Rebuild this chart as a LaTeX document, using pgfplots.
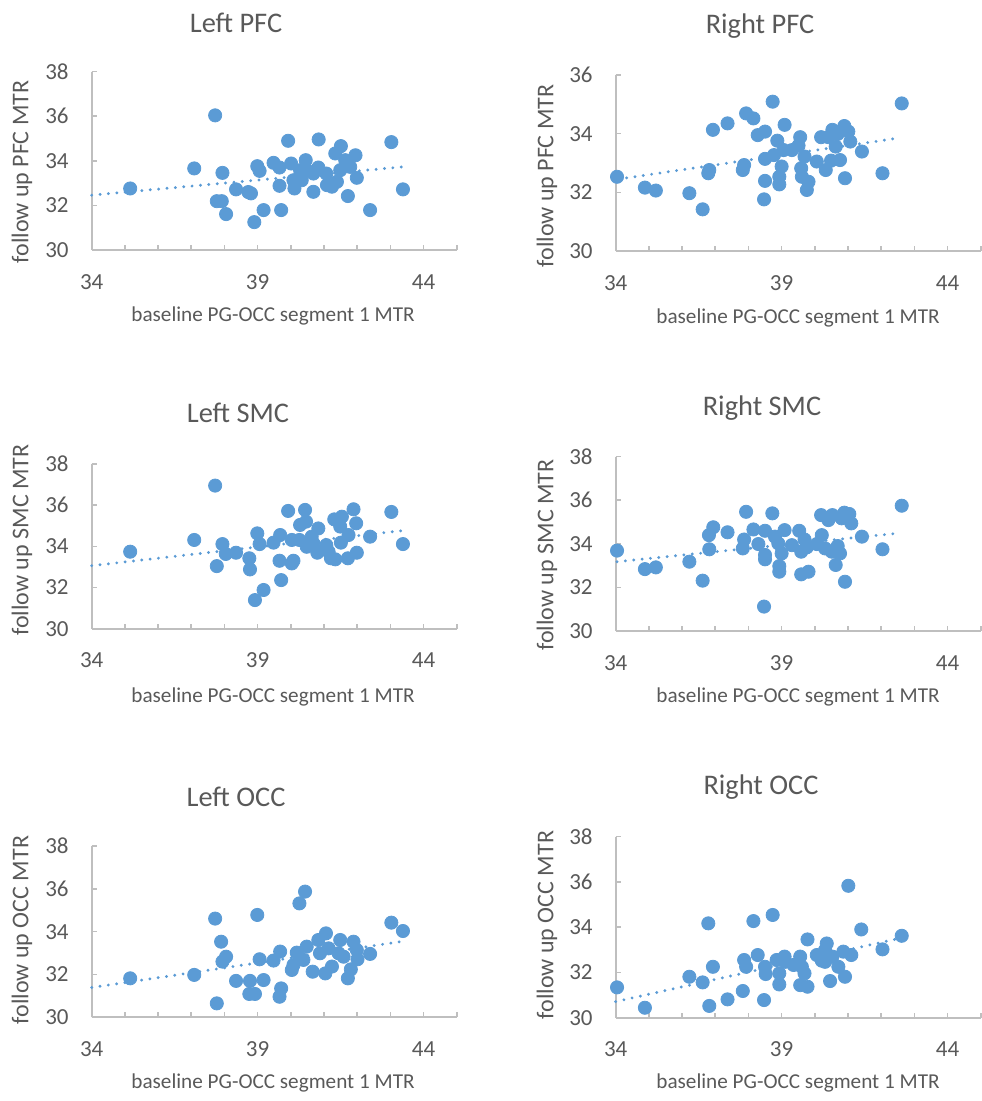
\documentclass[border=0pt]{standalone}
\usepackage{fontspec}
\setmainfont{Carlito}
\usepackage{pgfplots}
\pgfplotsset{compat=1.18}
\usepackage{pgfplotstable}

\definecolor{dotblue}{HTML}{5B9BD5}
\definecolor{txtgray}{HTML}{595959}
\definecolor{axgray}{HTML}{BFBFBF}

% panel data: x = baseline PG-OCC seg 1 MTR, y = follow up MTR
\pgfplotstableread{
x y
35.16 32.76
37.72 36.04
37.09 33.66
37.94 33.46
37.77 32.19
37.92 32.19
38.05 31.61
38.35 32.72
38.72 32.60
38.80 32.54
38.90 31.25
39.18 31.79
38.99 33.76
39.06 33.55
39.48 33.91
39.66 33.70
39.66 32.88
39.71 31.79
39.92 34.90
40.01 33.88
40.11 32.76
40.08 33.13
40.28 33.58
40.45 34.03
40.48 33.58
40.33 33.13
40.68 32.61
40.68 33.43
40.83 33.70
40.84 34.96
41.07 33.43
41.09 32.91
41.24 32.84
41.34 34.33
41.39 33.06
41.51 34.66
41.49 33.58
41.64 34.03
41.72 32.42
41.79 33.73
41.95 34.25
41.99 33.24
42.39 31.79
43.03 34.84
43.38 32.72
}\leftpfc

\pgfplotstableread{
x y
34.04 32.53
34.88 32.16
35.21 32.06
36.22 31.97
36.62 31.42
36.79 32.65
36.82 32.76
36.93 34.13
37.37 34.35
37.83 32.76
37.87 32.93
37.93 34.69
38.15 34.52
38.28 33.95
38.50 34.07
38.50 33.14
38.50 32.39
38.47 31.76
38.73 35.09
38.77 33.27
38.87 33.76
39.00 32.88
38.93 32.53
38.93 32.27
39.09 34.30
39.06 33.44
39.31 33.44
39.51 33.59
39.56 33.88
39.59 32.82
39.61 32.53
39.69 33.22
39.81 32.36
39.76 32.08
40.06 33.05
40.19 33.88
40.33 32.76
40.41 33.88
40.53 34.13
40.49 33.08
40.63 33.56
40.76 33.10
40.69 33.99
40.89 34.26
41.01 34.07
41.07 33.73
40.91 32.48
41.42 33.39
42.04 32.65
42.62 35.03
}\rightpfc

\pgfplotstableread{
x y
35.16 33.74
37.09 34.31
37.72 36.95
37.94 34.11
38.04 33.63
37.77 33.04
38.35 33.69
38.75 33.42
38.77 32.88
38.92 31.39
39.18 31.88
38.99 34.63
39.06 34.11
39.48 34.18
39.68 34.55
39.66 33.30
39.71 32.36
39.92 35.72
40.03 34.31
40.08 33.30
40.03 33.17
40.26 34.31
40.28 35.04
40.43 35.77
40.46 35.20
40.48 33.98
40.63 34.47
40.68 34.15
40.83 34.87
40.80 33.69
41.07 34.06
41.14 33.74
41.21 33.42
41.34 33.37
41.31 35.31
41.49 34.96
41.54 35.44
41.51 34.18
41.74 34.55
41.72 33.42
41.89 35.80
41.97 35.12
41.99 33.69
42.39 34.47
43.03 35.67
43.38 34.11
}\leftsmc

\pgfplotstableread{
x y
34.04 33.69
34.88 32.84
35.21 32.92
36.22 33.18
36.62 32.31
36.81 34.40
36.82 33.75
36.94 34.76
37.37 34.53
37.83 33.79
37.87 34.20
37.93 35.47
38.15 34.66
38.30 33.99
38.50 34.60
38.50 33.49
38.50 33.29
38.47 31.12
38.72 35.40
38.80 34.33
38.90 34.02
39.00 33.56
38.93 32.98
38.93 32.72
39.09 34.63
39.31 33.94
39.53 34.60
39.69 34.20
39.59 33.64
39.59 32.60
39.81 32.72
39.76 33.84
40.06 33.99
40.19 35.32
40.21 34.40
40.31 33.79
40.41 35.09
40.53 35.32
40.51 33.64
40.69 33.90
40.76 33.56
40.63 33.03
40.81 35.17
40.89 35.43
41.04 35.37
41.10 34.94
40.91 32.26
41.42 34.33
42.04 33.75
42.62 35.75
}\rightsmc

\pgfplotstableread{
x y
35.16 31.82
37.09 31.98
37.72 34.61
37.77 30.65
37.90 33.53
37.94 32.60
38.05 32.83
38.35 31.70
38.77 31.70
38.75 31.09
38.92 31.09
39.18 31.74
38.99 34.78
39.06 32.71
39.48 32.65
39.68 33.07
39.71 31.35
39.66 30.96
40.03 32.21
40.08 32.44
40.18 33.02
40.26 35.32
40.43 35.87
40.38 32.68
40.48 33.30
40.66 32.13
40.83 33.61
40.88 32.99
41.06 33.92
41.04 32.05
41.14 33.22
41.24 32.37
41.49 33.61
41.44 32.99
41.59 32.83
41.72 31.82
41.81 32.24
41.89 33.53
41.99 33.14
42.01 32.71
42.39 32.96
43.03 34.42
43.38 34.03
}\leftocc

\pgfplotstableread{
x y
34.04 31.34
34.88 30.44
36.22 31.81
36.62 31.56
36.79 34.17
36.82 30.52
36.93 32.25
37.37 30.81
37.83 31.18
37.87 32.55
37.93 32.25
38.15 34.27
38.28 32.77
38.47 30.78
38.50 32.25
38.52 31.93
38.73 34.54
38.85 32.55
38.93 31.47
38.93 31.96
39.09 32.70
39.11 32.47
39.36 32.33
39.56 32.70
39.61 32.25
39.69 31.96
39.56 31.44
39.78 33.46
39.78 31.37
40.06 32.77
40.21 32.52
40.36 33.28
40.31 32.99
40.31 32.47
40.46 31.62
40.53 32.70
40.71 32.25
40.86 32.92
40.91 31.81
41.01 35.83
41.10 32.77
41.40 33.90
42.04 33.02
42.62 33.62
}\rightocc

\pgfplotsset{
  mtr/.style={
    scale only axis, width=182.5pt,
    xmin=34, xmax=45, ymin=30,
    axis lines*=left,
    axis line style={draw=axgray, line width=0.9pt},
    xtick={34,39,44}, minor xtick={35,...,43,45},
    ytick distance=2,
    tick align=inside,
    major tick length=2.5pt, minor tick length=2.5pt,
    every tick/.style={draw=axgray, line width=0.8pt},
    every minor tick/.style={draw=axgray, line width=0.8pt},
    tick label style={font=\fontsize{11.5}{13}\selectfont, text=txtgray},
    /pgf/number format/assume math mode=true,
    xticklabel shift=8.6pt, yticklabel shift=8pt,
    clip=false,
  },
  pts/.style={only marks, mark=*, mark size=3.3pt,
    mark options={draw=dotblue, fill=dotblue}},
  trend/.style={no marks, draw=dotblue, line width=1.6pt,
    line cap=round, dash pattern=on 0pt off 4.2pt},
}

\tikzset{
  ttl/.style={text=txtgray, font=\fontsize{14.2}{16}\selectfont},
  xlab/.style={text=txtgray, font=\fontsize{10.6}{12}\selectfont},
  ylab/.style={text=txtgray, font=\fontsize{12}{14}\selectfont, rotate=90},
}

\begin{document}
\begin{tikzpicture}
\path[use as bounding box] (0pt,0pt) rectangle (490.5pt,550.5pt);

% Left PFC
\begin{axis}[mtr, at={(45.85pt,425.5pt)}, height=89.15pt, ymax=38]
\addplot[trend] coordinates {(34,32.46) (43.38,33.73)};
\addplot[pts] table {\leftpfc};
\end{axis}

% Right PFC
\begin{axis}[mtr, at={(307.85pt,425pt)}, height=88pt, ymax=36]
\addplot[trend] coordinates {(34.08,32.45) (42.47,33.84)};
\addplot[pts] table {\rightpfc};
\end{axis}

% Left SMC
\begin{axis}[mtr, at={(45.85pt,236.15pt)}, height=82.35pt, ymax=38]
\addplot[trend] coordinates {(34,33.06) (43.35,34.76)};
\addplot[pts] table {\leftsmc};
\end{axis}

% Right SMC
\begin{axis}[mtr, at={(307.85pt,235pt)}, height=87.15pt, ymax=38]
\addplot[trend] coordinates {(34.04,33.18) (42.47,34.48)};
\addplot[pts] table {\rightsmc};
\end{axis}

% Left OCC
\begin{axis}[mtr, at={(45.85pt,41.85pt)}, height=85.65pt, ymax=38]
\addplot[trend] coordinates {(34,31.39) (43.30,33.53)};
\addplot[pts] table {\leftocc};
\end{axis}

% Right OCC
\begin{axis}[mtr, at={(307.85pt,41.65pt)}, height=90.5pt, ymax=38]
\addplot[trend] coordinates {(34,30.71) (42.47,33.48)};
\addplot[pts] table {\rightocc};
\end{axis}

% titles and axis labels (px positions of the reference, halved)
\node[ttl] at (118pt,539pt) {Left PFC};
\node[ttl] at (380pt,537.5pt) {Right PFC};
\node[ttl] at (119pt,344pt) {Left SMC};
\node[ttl] at (381pt,346.5pt) {Right SMC};
\node[ttl] at (118pt,152pt) {Left OCC};
\node[ttl] at (380.5pt,157pt) {Right OCC};

\node[xlab] at (136.5pt,392.5pt) {baseline PG-OCC segment 1 MTR};
\node[xlab] at (399pt,391.5pt) {baseline PG-OCC segment 1 MTR};
\node[xlab] at (136.5pt,202pt) {baseline PG-OCC segment 1 MTR};
\node[xlab] at (399pt,202pt) {baseline PG-OCC segment 1 MTR};
\node[xlab] at (136.5pt,9pt) {baseline PG-OCC segment 1 MTR};
\node[xlab] at (399pt,9pt) {baseline PG-OCC segment 1 MTR};

\node[ylab] at (11pt,464.5pt) {follow up PFC MTR};
\node[ylab] at (273.5pt,462.5pt) {follow up PFC MTR};
\node[ylab] at (11pt,280.5pt) {follow up SMC MTR};
\node[ylab] at (273.5pt,273pt) {follow up SMC MTR};
\node[ylab] at (11pt,85.5pt) {follow up OCC MTR};
\node[ylab] at (273.5pt,88pt) {follow up OCC MTR};
\end{tikzpicture}
\end{document}
